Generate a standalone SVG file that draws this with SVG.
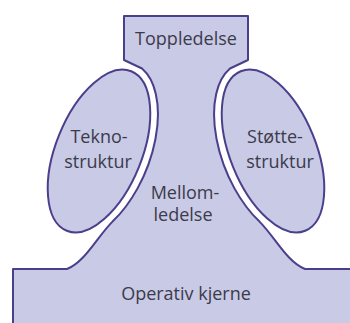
<svg xmlns="http://www.w3.org/2000/svg" width="350" height="323" viewBox="0 0 350 323">
<style>
.shape{fill:#c8cae6;stroke:#4b3f8c;stroke-width:2;stroke-linejoin:round}
.lbl{font-family:"Open Sans",Lato,sans-serif;font-size:18px;fill:#3c3b4a;text-anchor:middle}
</style>
<rect width="350" height="323" fill="#ffffff"/>
<g id="body">
<path class="shape" d="M13,330 V269 H67 C85,262 97,237 112.5,221.6 A51 94 22 0 0 142,68.5 L124,60 V16 H248 V60 L230,68.5 A51 94 -22 0 0 259.5,221.6 C275,237 287,262 305,269 H355 V330 Z"/>
</g>
<g id="teknostruktur">
<ellipse class="shape" cx="99" cy="151" rx="43" ry="86" transform="rotate(22 99 151)"/>
<text class="lbl" x="99" y="143">Tekno-</text>
<text class="lbl" x="98" y="168">struktur</text>
</g>
<g id="stottestruktur">
<ellipse class="shape" cx="273" cy="151" rx="43" ry="86" transform="rotate(-22 273 151)"/>
<text class="lbl" x="275" y="143">Støtte-</text>
<text class="lbl" x="280" y="168">struktur</text>
</g>
<g id="toppledelse"><text class="lbl" x="186" y="45">Toppledelse</text></g>
<g id="mellomledelse">
<text class="lbl" x="185" y="199">Mellom-</text>
<text class="lbl" x="183" y="221">ledelse</text>
</g>
<g id="operativkjerne"><text class="lbl" x="186" y="300">Operativ kjerne</text></g>
<g id="connectors"></g>
</svg>
